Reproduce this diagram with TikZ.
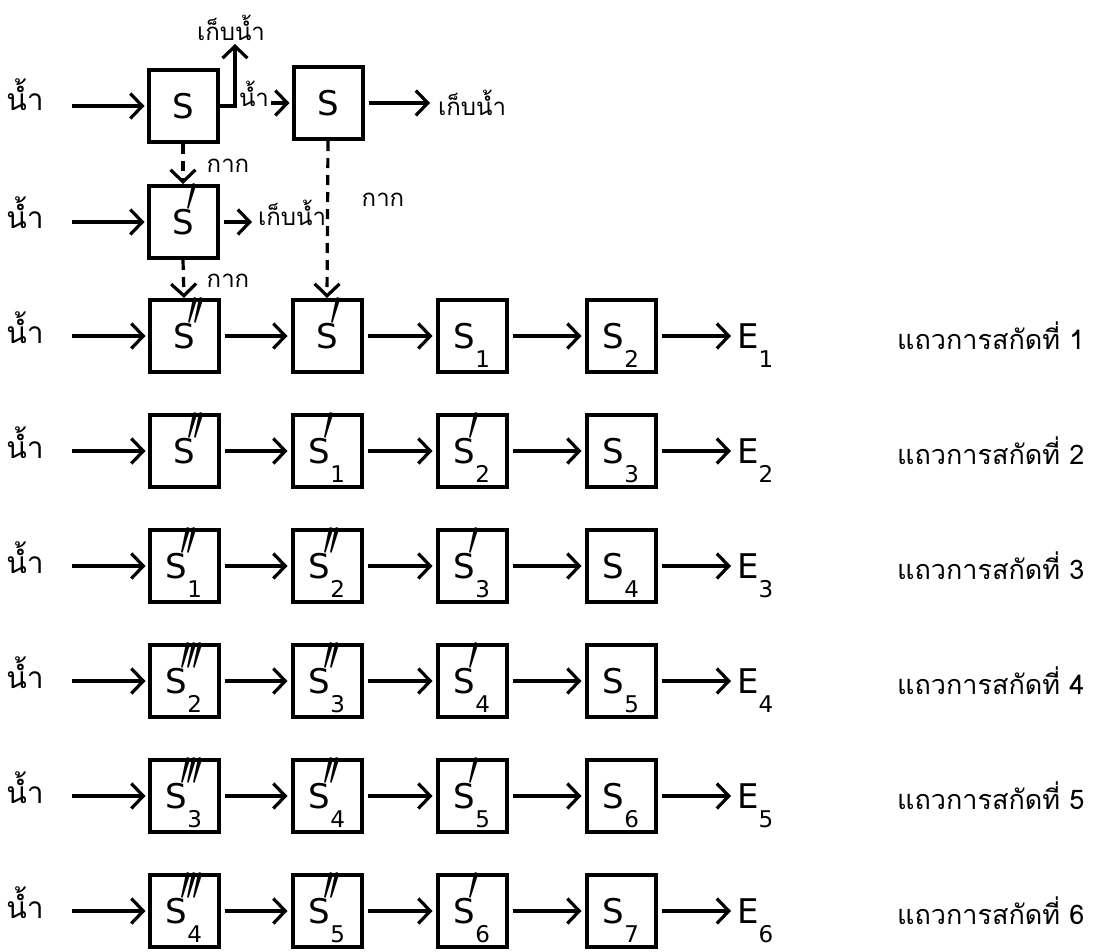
\documentclass[tikz,border=0pt]{standalone}
\usepackage{fontspec}
\usepackage{graphicx}
\setmainfont{DejaVu Sans}
\newfontfamily\thai[Script=Thai]{Loma}
\usetikzlibrary{arrows.meta}
\newcommand{\PrA}{\scalebox{1.5}[2.0]{$\prime$}}
\newcommand{\PrB}{\scalebox{1.5}[2.0]{$\prime\mkern-2mu\prime$}}
\newcommand{\PrC}{\scalebox{1.5}[2.0]{$\prime\mkern-2mu\prime\mkern-2mu\prime$}}
\newcommand{\Sn}[2]{S\smash{\rlap{\kern-7pt\raisebox{23pt}{#1}}}\smash{\raisebox{-19pt}{\fontsize{23}{23}\selectfont #2}}}
\newcommand{\En}[1]{E\smash{\raisebox{-19pt}{\fontsize{23}{23}\selectfont #1}}}
\tikzset{
  stage/.style={draw, line width=4pt, minimum width=69pt, minimum height=72pt, inner sep=0pt, font=\fontsize{34}{34}\selectfont},
  flow/.style={line width=3.2pt, -{Straight Barb[length=12pt,width=25pt,line width=3.2pt]}},
  waste/.style={flow, dash pattern=on 10pt off 7pt},
  thailab/.style={font=\thai\fontsize{30}{30}\selectfont, inner sep=0pt},
  thaism/.style={font=\thai\fontsize{24}{24}\selectfont, inner sep=0pt},
  rowlab/.style={font=\thai\fontsize{27}{27}\selectfont, inner sep=0pt, anchor=west},
  elab/.style={font=\fontsize{34}{34}\selectfont, inner sep=0pt, anchor=west}
}
\begin{document}
\begin{tikzpicture}[x=1pt,y=-1pt]
\useasboundingbox (0,0) rectangle (1098,951);
% top part
\node[stage] (A) at (183,106) {S};
\node[stage] (B) at (328,103) {S};
\node[stage] (C) at (183,222) {\Sn{\PrA}{}};
\node[thailab] (w0) at (25,95) {น้ำ};
\node[thailab] (w00) at (25,213) {น้ำ};
\node[thaism] (kw1) at (231,28) {เก็บน้ำ};
\node[thaism] (nm) at (254,94) {น้ำ};
\node[thaism, anchor=west] (kw3) at (438,103) {เก็บน้ำ};
\node[thaism, anchor=west] (kw2) at (258,213) {เก็บน้ำ};
\node[thaism] (g1) at (228,166) {กาก};
\node[thaism] (g2) at (228,281) {กาก};
\node[thaism] (g3) at (383,200) {กาก};
\draw[flow, shorten >=2pt] ([xshift=28pt]w0.east |- A.west) -- (A.west);
\draw[flow, shorten >=2pt] ([xshift=28pt]w00.east |- C.west) -- (C.west);
\draw[flow, shorten >=3pt] (A.east) -| ([xshift=4pt]kw1.south);
\draw[flow, shorten >=2pt] ([xshift=2pt]nm.east |- B.west) -- (B.west);
\draw[flow, shorten <=4pt, shorten >=8pt] (B.east) -- (B.east -| kw3.west);
\draw[flow, shorten <=4pt, shorten >=6pt] (C.east) -- (C.east -| kw2.west);
% rows
\foreach \r/\y/\a/\b/\c/\d/\e in {
 1/336/{\Sn{\PrB}{}}/{\Sn{\PrA}{}}/{\Sn{}{1}}/{\Sn{}{2}}/1,
 2/451/{\Sn{\PrB}{}}/{\Sn{\PrA}{1}}/{\Sn{\PrA}{2}}/{\Sn{}{3}}/2,
 3/566/{\Sn{\PrB}{1}}/{\Sn{\PrB}{2}}/{\Sn{\PrA}{3}}/{\Sn{}{4}}/3,
 4/681/{\Sn{\PrC}{2}}/{\Sn{\PrB}{3}}/{\Sn{\PrA}{4}}/{\Sn{}{5}}/4,
 5/796/{\Sn{\PrC}{3}}/{\Sn{\PrB}{4}}/{\Sn{\PrA}{5}}/{\Sn{}{6}}/5,
 6/911/{\Sn{\PrC}{4}}/{\Sn{\PrB}{5}}/{\Sn{\PrA}{6}}/{\Sn{}{7}}/6}{
  \node[thailab] (w\r) at (25,\y-8) {น้ำ};
  \node[stage] (r\r c1) at (184,\y) {\a};
  \node[stage] (r\r c2) at (327,\y) {\b};
  \node[stage] (r\r c3) at (472,\y) {\c};
  \node[stage] (r\r c4) at (621,\y) {\d};
  \node[elab] (e\r) at (737,\y) {\En{\e}};
  \node[rowlab] (l\r) at (897,\y) {แถวการสกัดที่ \e};
  \draw[flow, shorten >=2pt] ([xshift=28pt]w\r.east |- r\r c1.west) -- (r\r c1.west);
  \draw[flow, shorten <=4pt, shorten >=3pt] (r\r c1.east) -- (r\r c2.west);
  \draw[flow, shorten <=4pt, shorten >=3pt] (r\r c2.east) -- (r\r c3.west);
  \draw[flow, shorten <=4pt, shorten >=3pt] (r\r c3.east) -- (r\r c4.west);
  \draw[flow, shorten <=4pt, shorten >=6pt] (r\r c4.east) -- (e\r.west);
}
\draw[waste] (A.south) -- (C.north);
\draw[waste] (C.south) -- (r1c1.north);
\draw[waste] (B.south) -- (r1c2.north);
\end{tikzpicture}
\end{document}
